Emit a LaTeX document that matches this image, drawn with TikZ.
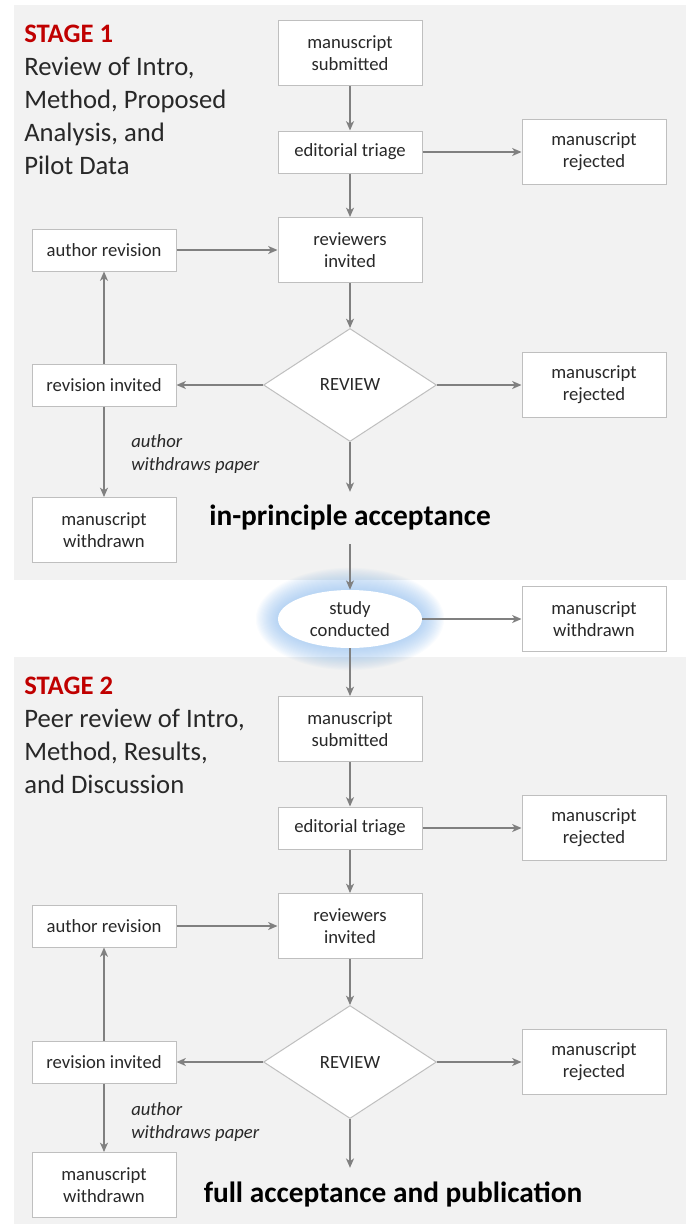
\documentclass[tikz,border=0pt]{standalone}
\usepackage{fontspec}
\setmainfont{Carlito}
\usetikzlibrary{shapes.geometric,arrows.meta}

\definecolor{panel}{RGB}{242,242,242}
\definecolor{boxline}{RGB}{191,191,191}
\definecolor{arrowgray}{RGB}{128,128,128}
\definecolor{stagered}{RGB}{192,0,0}
\definecolor{glowblue}{RGB}{130,180,235}
\definecolor{textgray}{RGB}{40,40,40}

\tikzset{
  box/.style={draw=boxline, fill=white, line width=0.75pt, minimum width=108pt,
    align=center, inner sep=0pt, text=textgray, font=\fontsize{14}{16.5}\selectfont},
  tallbox/.style={box, minimum height=48.75pt},
  shortbox/.style={box, minimum height=31.5pt},
  decision/.style={diamond, draw=boxline, fill=white, line width=0.75pt,
    minimum width=129.75pt, minimum height=84.75pt, inner sep=0pt,
    text=textgray, font=\fontsize{14}{16.5}\selectfont},
  arr/.style={draw=arrowgray, line width=1pt, -{Stealth[length=7pt,width=6pt,inset=2pt]}},
  stagetext/.style={anchor=north west, inner sep=0pt, align=left, text=textgray,
    font=\fontsize{20}{24.75}\selectfont},
  accept/.style={inner sep=10pt, font=\fontsize{22}{26}\selectfont\bfseries},
  note/.style={anchor=west, inner sep=0pt, align=left, text=textgray,
    font=\fontsize{14}{17}\selectfont\itshape}
}

\begin{document}
\begin{tikzpicture}[x=0.75pt, y=-0.75pt]

\useasboundingbox (0,0) rectangle (686,1224);

% panels
\fill[panel] (14,5) rectangle (686,580);
\fill[panel] (14,657) rectangle (686,1224);

\node[stagetext] (head1) at (24,25) {\textcolor{stagered}{\bfseries STAGE 1}\\Review of Intro,\\Method, Proposed\\Analysis, and\\Pilot Data};
\node[stagetext] (head2) at (24,677) {\textcolor{stagered}{\bfseries STAGE 2}\\Peer review of Intro,\\Method, Results,\\and Discussion};

% stage 1
\node[tallbox] (sub1) at (350,53) {manuscript\\submitted};
\node[shortbox] (tri1) at (350,152) {editorial triage};
\node[tallbox] (rejA1) at (594,152) {manuscript\\rejected};
\node[tallbox] (inv1) at (350,250) {reviewers\\invited};
\node[shortbox] (arev1) at (104,250) {author revision};
\node[decision] (rev1) at (350,385) {REVIEW};
\node[shortbox] (rinv1) at (104,385) {revision invited};
\node[tallbox] (rejB1) at (594,385) {manuscript\\rejected};
\node[tallbox] (wd1) at (104,530) {manuscript\\withdrawn};
\node[note] (quit1) at (131,454) {author\\withdraws paper};
\node[accept] (acc1) at (350,518) {in-principle acceptance};

\draw[arr] (sub1) -- (tri1);
\draw[arr] (tri1) -- (rejA1);
\draw[arr] (tri1) -- (inv1);
\draw[arr] (arev1) -- (inv1);
\draw[arr] (inv1) -- (rev1);
\draw[arr] (rev1) -- (rinv1);
\draw[arr] (rev1) -- (rejB1);
\draw[arr] (rinv1) -- (arev1);
\draw[arr] (rinv1) -- (wd1);
\draw[arr] (rev1) -- (acc1);

% study
\foreach \i in {1,...,22}
  \fill[glowblue, opacity=0.04] (350,619) ellipse [x radius=70+1.1*\i, y radius=27+1.1*\i];
\node[ellipse, fill=white, minimum width=108pt, minimum height=43.5pt, inner sep=0pt,
  align=center, text=textgray, font=\fontsize{14}{16.5}\selectfont] (study) at (350,619) {study\\conducted};
\node[tallbox] (wdm) at (594,619) {manuscript\\withdrawn};

\draw[arr] (acc1) -- (study);
\draw[arr] (study) -- (wdm);

% stage 2
\node[tallbox] (sub2) at (350,729) {manuscript\\submitted};
\node[shortbox] (tri2) at (350,828) {editorial triage};
\node[tallbox] (rejA2) at (594,828) {manuscript\\rejected};
\node[tallbox] (inv2) at (350,926) {reviewers\\invited};
\node[shortbox] (arev2) at (104,926) {author revision};
\node[decision] (rev2) at (350,1062) {REVIEW};
\node[shortbox] (rinv2) at (104,1062) {revision invited};
\node[tallbox] (rejB2) at (594,1062) {manuscript\\rejected};
\node[tallbox] (wd2) at (104,1185) {manuscript\\withdrawn};
\node[note] (quit2) at (131,1122) {author\\withdraws paper};
\node[accept] (acc2) at (393,1194) {full acceptance and publication};

\draw[arr] (study) -- (sub2);
\draw[arr] (sub2) -- (tri2);
\draw[arr] (tri2) -- (rejA2);
\draw[arr] (tri2) -- (inv2);
\draw[arr] (arev2) -- (inv2);
\draw[arr] (inv2) -- (rev2);
\draw[arr] (rev2) -- (rinv2);
\draw[arr] (rev2) -- (rejB2);
\draw[arr] (rinv2) -- (arev2);
\draw[arr] (rinv2) -- (wd2);
\draw[arr] (rev2) -- (rev2 |- acc2.north);

\end{tikzpicture}
\end{document}
